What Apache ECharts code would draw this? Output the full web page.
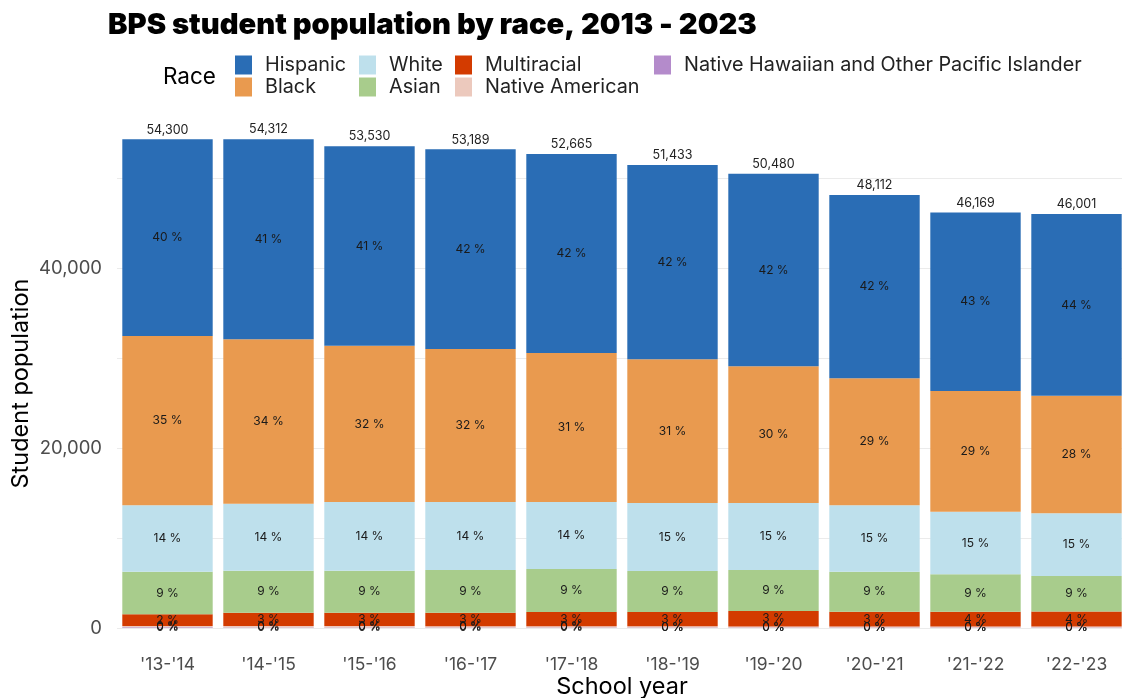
<!DOCTYPE html>
<html>
<head>
<meta charset="utf-8">
<style>
  html, body { margin: 0; padding: 0; background: #ffffff; overflow: hidden; }
  #chart { width: 1122px; height: 698px; }
</style>
<script src="https://cdn.jsdelivr.net/npm/echarts@6/dist/echarts.min.js"></script>
</head>
<body>
<div id="chart"></div>
<script>
const categories = ["'13-'14", "'14-'15", "'15-'16", "'16-'17", "'17-'18", "'18-'19", "'19-'20", "'20-'21", "'21-'22", "'22-'23"];

const hispanic       = [21867, 22234, 22180, 22189, 22105, 21577, 21402, 20368, 19836, 20207];
const black          = [18800, 18267, 17350, 17000, 16560, 15967, 15189, 14111, 13411, 13050];
const white          = [7377, 7444, 7633, 7556, 7444, 7556, 7445, 7377, 6955, 6966];
const asian          = [4734, 4667, 4667, 4744, 4778, 4555, 4555, 4438, 4149, 3945];
const multiracial    = [1289, 1474, 1486, 1494, 1580, 1589, 1709, 1650, 1660, 1680];
const nativeAmerican = [163, 158, 150, 146, 140, 134, 128, 118, 110, 107];
const nativeHawaiian = [70, 68, 64, 60, 58, 55, 52, 50, 48, 46];

const FONT = 'Inter, "Noto Sans", sans-serif';

const seriesDefs = [
  // bottom to top
  { name: 'Native Hawaiian and Other Pacific Islander', data: nativeHawaiian, color: '#b48bcb' },
  { name: 'Native American', data: nativeAmerican, color: '#ecc9bd' },
  { name: 'Multiracial', data: multiracial, color: '#d33b00' },
  { name: 'Asian', data: asian, color: '#a8cc8c' },
  { name: 'White', data: white, color: '#bee0ec' },
  { name: 'Black', data: black, color: '#e99a4f' },
  { name: 'Hispanic', data: hispanic, color: '#2a6db5' }
];

const totals = categories.map((c, i) => seriesDefs.reduce((s, d) => s + d.data[i], 0));

const series = seriesDefs.map(d => ({
  name: d.name,
  type: 'bar',
  stack: 'pop',
  barWidth: '89.5%',
  data: d.data,
  itemStyle: { color: d.color },
  label: {
    show: true,
    position: 'inside',
    fontFamily: FONT,
    fontSize: 12,
    color: '#1a1a1a',
    formatter: p => Math.round(p.value / totals[p.dataIndex] * 100) + ' %'
  },
  emphasis: { disabled: true }
}));

series.push({
  name: 'Total',
  type: 'bar',
  stack: 'pop',
  barWidth: '89.5%',
  data: totals.map(() => 0),
  itemStyle: { color: 'rgba(0,0,0,0)' },
  label: {
    show: true,
    position: 'top',
    distance: 3,
    fontFamily: FONT,
    fontSize: 12.5,
    color: '#222222',
    formatter: p => totals[p.dataIndex].toLocaleString('en-US')
  },
  emphasis: { disabled: true }
});

const legendCommon = {
  orient: 'vertical',
  top: 55,
  padding: 0,
  itemWidth: 17,
  itemHeight: 19,
  itemGap: 2,
  icon: 'rect',
  selectedMode: false,
  textStyle: { fontFamily: FONT, fontSize: 19.8, color: '#222222', padding: [0, 0, 0, 8] }
};

const chart = echarts.init(document.getElementById('chart'), null, { renderer: 'canvas', width: 1122, height: 698 });

chart.setOption({
  animation: false,
  backgroundColor: '#ffffff',
  title: [
    {
      text: 'BPS student population by race, 2013 - 2023',
      left: 103,
      top: 6,
      textStyle: { fontFamily: FONT, fontSize: 29.2, fontWeight: 900, color: '#000000' }
    },
    {
      text: 'Race',
      left: 158,
      top: 61,
      textStyle: { fontFamily: FONT, fontSize: 22.5, fontWeight: 'normal', color: '#000000' }
    }
  ],
  legend: [
    Object.assign({}, legendCommon, { left: 235, data: ['Hispanic', 'Black'] }),
    Object.assign({}, legendCommon, { left: 359, data: ['White', 'Asian'] }),
    Object.assign({}, legendCommon, { left: 455, data: ['Multiracial', 'Native American'] }),
    Object.assign({}, legendCommon, { left: 654, data: ['Native Hawaiian and Other Pacific Islander'] })
  ],
  grid: { left: 117, width: 1010, top: 115, height: 513, containLabel: false, outerBoundsMode: 'none' },
  xAxis: {
    type: 'category',
    data: categories,
    name: 'School year',
    nameLocation: 'middle',
    nameGap: 47,
    nameMoveOverlap: false,
    nameTextStyle: { fontFamily: FONT, fontSize: 23.5, color: '#000000' },
    axisLine: { show: false },
    axisTick: { show: false },
    axisLabel: { margin: 28, fontFamily: FONT, fontSize: 17.5, color: '#4d4d4d' }
  },
  yAxis: {
    type: 'value',
    min: 0,
    max: 57000,
    interval: 10000,
    name: 'Student population',
    nameLocation: 'middle',
    nameGap: 84,
    nameMoveOverlap: false,
    nameRotate: 90,
    nameTextStyle: { fontFamily: FONT, fontSize: 23.5, color: '#000000', padding: [0, 24, 0, 0] },
    axisLine: { show: false },
    axisTick: { show: false },
    axisLabel: {
      margin: 15,
      fontFamily: FONT,
      fontSize: 18.5,
      color: '#4d4d4d',
      formatter: v => (v % 20000 === 0 ? v.toLocaleString('en-US') : '')
    },
    splitLine: {
      show: true,
      lineStyle: { color: ['#ebebeb', '#ebebeb', '#ebebeb', '#ebebeb', '#ebebeb', '#ebebeb', 'rgba(0,0,0,0)'], width: 1 }
    }
  },
  series: series
});
</script>
</body>
</html>
